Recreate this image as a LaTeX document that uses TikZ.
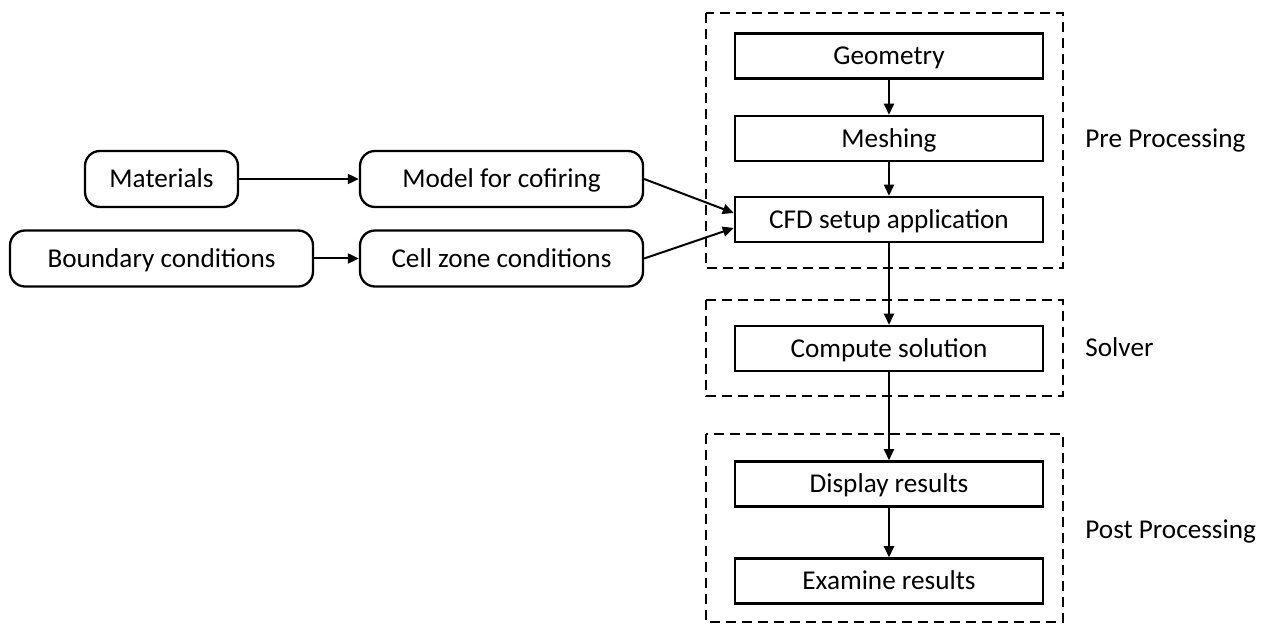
\documentclass[tikz,border=0pt]{standalone}
\usepackage{fontspec}
\setmainfont{Carlito}
\usetikzlibrary{arrows.meta,calc}
\begin{document}
\begin{tikzpicture}[x=0.5pt,y=-0.5pt,
  txt/.style={font=\fontsize{13.6}{16}\selectfont},
  box/.style={txt, draw, line width=1.25pt, minimum width=154pt, minimum height=22.5pt, inner sep=0pt, text height=8.8pt, text depth=0pt},
  rbox/.style={txt, draw, line width=1.15pt, rounded corners=7.5pt, minimum height=28pt, inner sep=0pt, text height=8.8pt, text depth=0pt},
  group/.style={draw, line width=1pt, dash pattern=on 5pt off 3pt},
  arr/.style={line width=1pt, -{Triangle[length=5.5pt,width=5pt]}},
  lbl/.style={txt, anchor=west, inner sep=0pt, text height=8.8pt, text depth=0pt}]
\useasboundingbox (0,0) rectangle (1270,625);
% groups
\draw[group] (706,13) rectangle (1063,268);
\draw[group] (706,300) rectangle (1063,396);
\draw[group] (706,434) rectangle (1063,622);
% main column
\node[box] (geo) at (889,56) {Geometry};
\node[box] (mesh) at (889,138.5) {Meshing};
\node[box] (cfd) at (889,219.5) {CFD setup application};
\node[box] (comp) at (889,348.5) {Compute solution};
\node[box] (disp) at (889,484) {Display results};
\node[box] (exam) at (889,581) {Examine results};
% left side
\node[rbox, minimum width=76.5pt] (mat) at (161.5,179) {Materials};
\node[rbox, minimum width=141.5pt] (model) at (501.5,179) {Model for cofiring};
\node[rbox, minimum width=151.5pt] (bound) at (161.5,258.5) {Boundary conditions};
\node[rbox, minimum width=141.5pt] (cell) at (501.5,258.5) {Cell zone conditions};
% labels
\node[lbl] (pre) at (1085,139) {Pre Processing};
\node[lbl] (solv) at (1085,348) {Solver};
\node[lbl] (post) at (1085,530) {Post Processing};
% connectors
\draw[arr] (geo) -- (mesh);
\draw[arr] (mesh) -- (cfd);
\draw[arr] (cfd) -- (comp);
\draw[arr] (comp) -- (disp);
\draw[arr] (disp) -- (exam);
\draw[arr] (mat) -- (model);
\draw[arr] (bound) -- (cell);
\coordinate (in1) at ($(cfd.west)+(0,-6.5)$);
\coordinate (in2) at ($(cfd.west)+(0,8.5)$);
\draw[arr] (model.east) -- (in1);
\draw[arr] (cell.east) -- (in2);
\end{tikzpicture}
\end{document}
